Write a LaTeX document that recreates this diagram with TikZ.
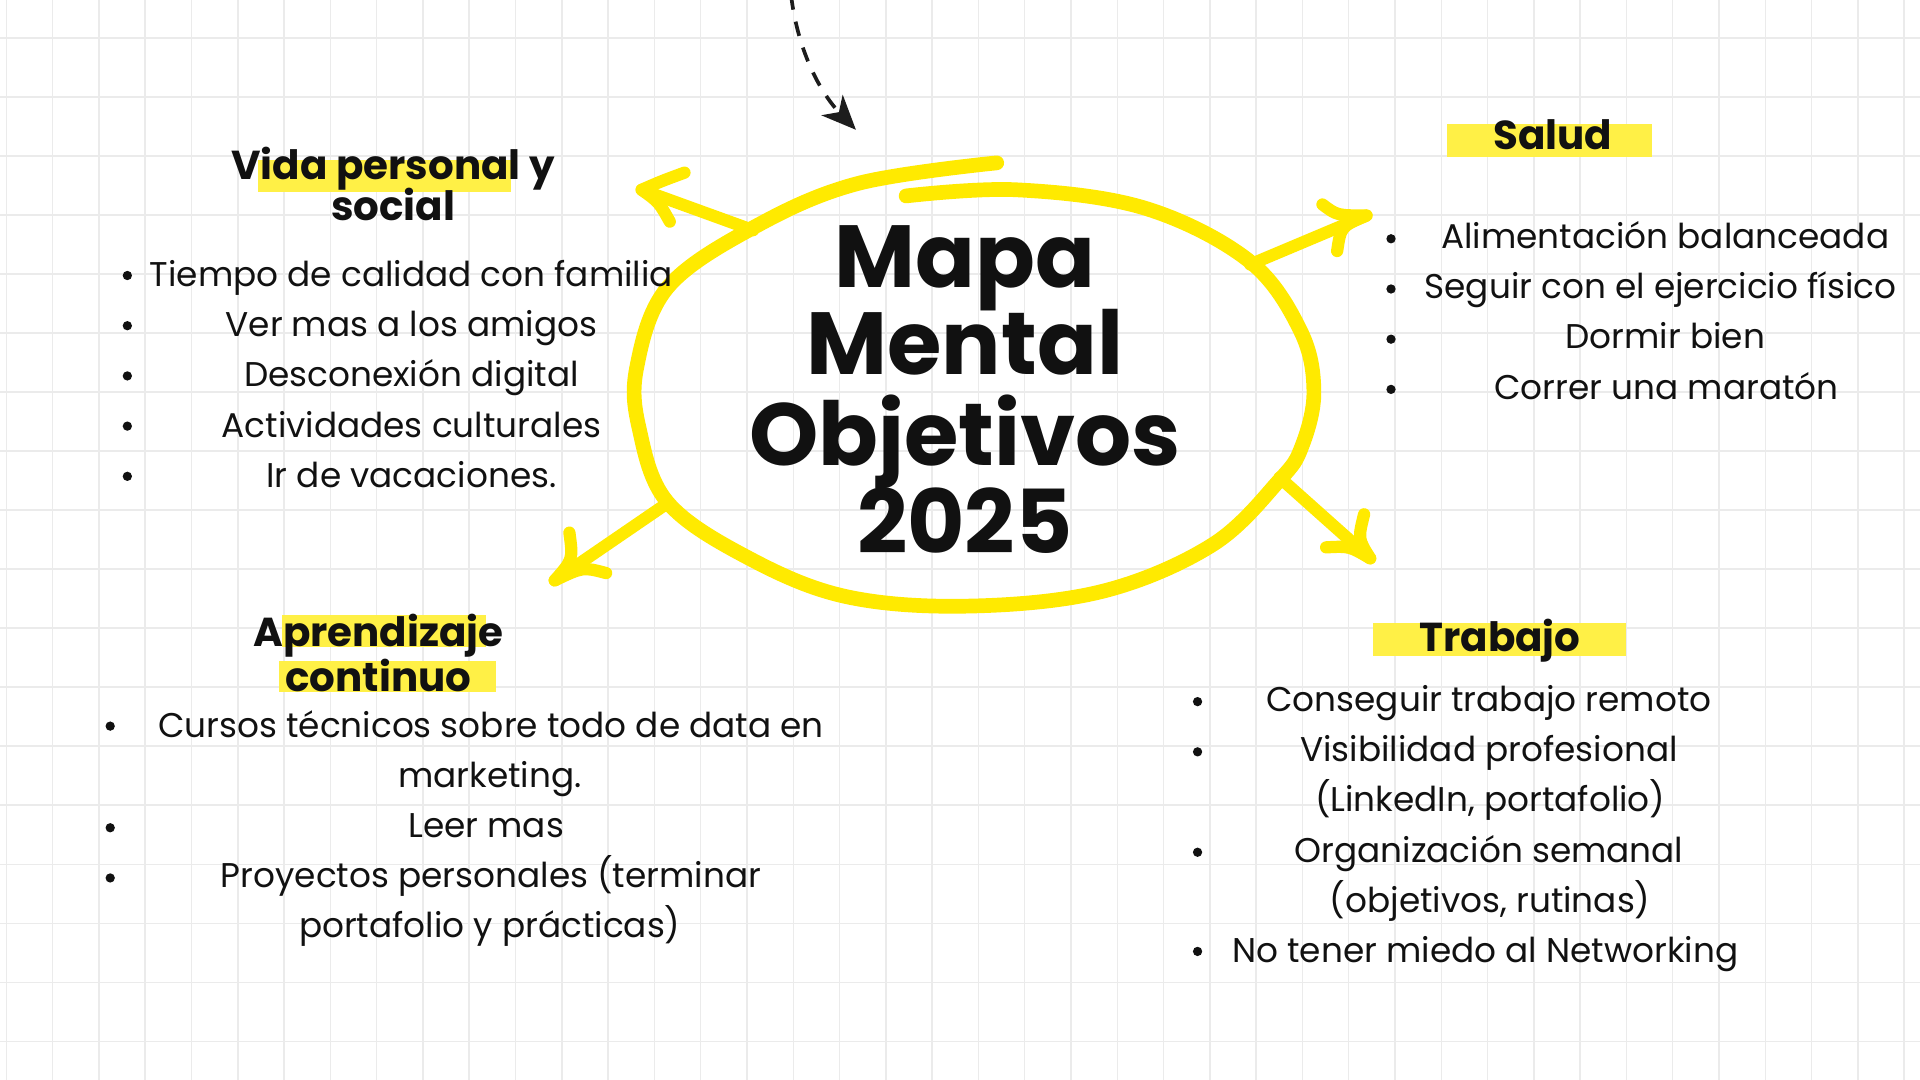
\documentclass[tikz,border=0pt]{standalone}
\usepackage{fontspec}
\setmainfont{Poppins}
\usetikzlibrary{arrows.meta}
\definecolor{hl}{HTML}{FFF046}
\definecolor{ylw}{HTML}{FFEA00}
\definecolor{gridc}{HTML}{EBEBEB}
\definecolor{ink}{HTML}{111111}
\begin{document}
\begin{tikzpicture}[x=0.5pt,y=-0.5pt,
  item/.style={anchor=base, inner sep=0pt, font=\fontsize{14}{16}\selectfont, text=ink},
  head/.style={anchor=base, inner sep=0pt, font=\fontsize{16.5}{18}\selectfont\bfseries, text=ink},
  ttl/.style={anchor=base, inner sep=0pt, font=\fontsize{36}{40}\selectfont\bfseries, text=ink},
  hlbox/.style={fill=hl, draw=none},
  yarrow/.style={draw=ylw, line width=5pt, line cap=round, line join=round},
  dot/.style={fill=ink},
]
\fill[white] (0,0) rectangle (1568,882);
\useasboundingbox (0,0) rectangle (1568,882);
% grid
\foreach \k in {-1,...,40} \draw[gridc, line width=0.6pt] ({43+37.8*\k},0) -- ({43+37.8*\k},882);
\foreach \k in {0,...,17} \draw[gridc, line width=0.6pt] (0,{31+48.2*\k}) -- (1568,{31+48.2*\k});

% highlights
\fill[hl] (211,131) rectangle (417,157);
\fill[hl] (1182,101) rectangle (1349,128);
\fill[hl] (230,502) rectangle (397,528);
\fill[hl] (228,540) rectangle (405,565);
\fill[hl] (1121,509) rectangle (1328,536);

% central hand-drawn ellipse
\draw[ylw, line width=6pt, line cap=round] plot[smooth, tension=0.6] coordinates {(740,160) (830,155) (935,170) (1020,213) (1062,270) (1073,320) (1063,365) (1045,392) (990,445) (900,483) (790,495) (690,487) (610,455) (545,410) (522,350) (520,300) (545,235) (615,186) (700,150) (814,133)};

% arrow coordinates
\coordinate (ulS) at (615,188); \coordinate (ulT) at (524,155);
\coordinate (urS) at (1021,216); \coordinate (urT) at (1116,176);
\coordinate (llS) at (545,411); \coordinate (llT) at (453,474);
\coordinate (lrS) at (1045,390); \coordinate (lrT) at (1119,456);
\draw[yarrow] (ulS) -- (ulT);
\draw[yarrow] (559,141) .. controls (540,148) .. (ulT) .. controls (538,165) .. (547,181);
\draw[yarrow] (urS) -- (urT);
\draw[yarrow] (1080,167) .. controls (1092,176) .. (urT) .. controls (1095,185) .. (1092,205);
\draw[yarrow] (llS) -- (llT);
\draw[yarrow] (465,435) .. controls (468,457) .. (llT) .. controls (476,463) .. (495,468);
\draw[yarrow] (lrS) -- (lrT);
\draw[yarrow] (1114,420) .. controls (1109,440) .. (lrT) .. controls (1102,446) .. (1083,447);

% dashed arrow from top
\coordinate (dS) at (646,-4);
\coordinate (dT) at (699,106);
\draw[draw=ink!95, line width=1.5pt, dash pattern=on 6pt off 5pt, -{Stealth[length=14pt,width=12pt,inset=4pt]}] (dS) .. controls (652,45) and (672,78) .. (dT);

% title
\node[ttl] (m1) at (788,235) {Mapa};
\node[ttl] (m2) at (788,306) {Mental};
\node[ttl] (m3) at (788,380) {Objetivos};
\node[ttl] (m4) at (788,452) {2025};

% Vida personal y social
\node[head] (hv1) at (321,147) {Vida personal y};
\node[head] (hv2) at (321,180) {social};
\foreach \y in {225,266,307,348,389} \fill[dot] (104,\y) circle (3.8);
\node[item] (v1) at (336,234) {Tiempo de calidad con familia};
\node[item] (v2) at (336,275) {Ver mas a los amigos};
\node[item] (v3) at (336,316) {Desconexión digital};
\node[item] (v4) at (336,357) {Actividades culturales};
\node[item] (v5) at (336,398) {Ir de vacaciones.};

% Salud
\node[head] (hs) at (1268,122) {Salud};
\foreach \y in {195,236,277,318} \fill[dot] (1136,\y) circle (3.8);
\node[item] (s1) at (1360,203) {Alimentación balanceada};
\node[item] (s2) at (1356,244) {Seguir con el ejercicio físico};
\node[item] (s3) at (1360,285) {Dormir bien};
\node[item] (s4) at (1361,326) {Correr una maratón};

% Aprendizaje continuo
\node[head] (ha1) at (309,528) {Aprendizaje};
\node[head] (ha2) at (309,565) {continuo};
\foreach \y in {593,676,717} \fill[dot] (90,\y) circle (3.8);
\node[item] (a1) at (401,602) {Cursos técnicos sobre todo de data en};
\node[item] (a2) at (400,643) {marketing.};
\node[item] (a3) at (397,684) {Leer mas};
\node[item] (a4) at (401,725) {Proyectos personales (terminar};
\node[item] (a5) at (400,766) {portafolio y prácticas)};

% Trabajo
\node[head] (ht) at (1225,532) {Trabajo};
\foreach \y in {573,614,696,777} \fill[dot] (978,\y) circle (3.8);
\node[item] (t1) at (1216,581) {Conseguir trabajo remoto};
\node[item] (t2) at (1216,622) {Visibilidad profesional};
\node[item] (t3) at (1217,663) {(LinkedIn, portafolio)};
\node[item] (t4) at (1216,704) {Organización semanal};
\node[item] (t5) at (1217,745) {(objetivos, rutinas)};
\node[item] (t6) at (1213,786) {No tener miedo al Networking};
\end{tikzpicture}
\end{document}
